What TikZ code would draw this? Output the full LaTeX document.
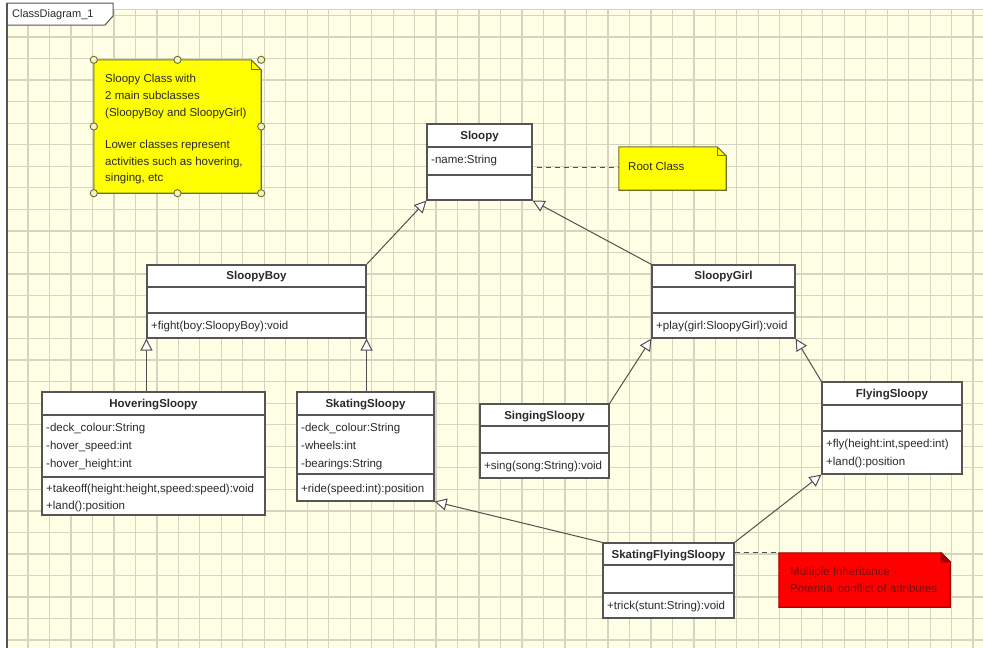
\documentclass[tikz,border=0pt]{standalone}
\usepackage{fontspec}
\setmainfont{Liberation Sans}
\usetikzlibrary{arrows.meta,calc}
\definecolor{bgcream}{HTML}{FFFFE6}
\definecolor{gridc}{HTML}{D4D4C0}
\definecolor{boxgray}{HTML}{555555}
\definecolor{txtgray}{HTML}{2A2A2A}
\definecolor{linegray}{HTML}{505050}
\definecolor{noteyellow}{HTML}{FFFF00}
\definecolor{noteyborder}{HTML}{6E6E30}
\definecolor{notered}{HTML}{FF0000}
\definecolor{noterborder}{HTML}{A00000}
\definecolor{notertext}{HTML}{7A0C0C}
\definecolor{handlefill}{HTML}{F4F4C0}
\newcommand{\fs}{\fontsize{11.5}{13}\selectfont}
\begin{document}
\begin{tikzpicture}[x=1pt,y=-1pt,
  gridline/.style={draw=gridc, line width=1.3pt},
  cls/.style={draw=boxgray, fill=white, line width=1.1pt, inner sep=0pt},
  divline/.style={draw=boxgray, line width=1.1pt},
  ttl/.style={inner sep=0pt, font=\fs\bfseries, text=txtgray, text height=8.5pt, text depth=2.5pt},
  txt/.style={anchor=west, inner sep=0pt, font=\fs, text=txtgray, text height=8.5pt, text depth=2.5pt},
  notebox/.style={inner sep=0pt},
  gen/.style={draw=linegray, line width=1pt, -{Triangle[open, length=12pt, width=12pt, fill=white]}},
  dashline/.style={draw=linegray, line width=1pt, dash pattern=on 5pt off 4pt},
  handle/.style={draw=noteyborder, fill=handlefill, line width=0.9pt}
]
\useasboundingbox (0,0) rectangle (983,648);
\fill[white] (0,0) rectangle (983,648);
\fill[bgcream] (7,9) rectangle (983,648);
\begin{scope}
  \clip (7,9) rectangle (983,648);
  \foreach \i in {-1,...,45} \draw[gridline] ({28+21.48*\i},9) -- ({28+21.48*\i},648);
  \foreach \j in {-1,...,28} \draw[gridline] (7,{37+21.54*\j}) -- (983,{37+21.54*\j});
\end{scope}
\draw[draw=gridc, line width=0.8pt] (7,9) -- (983,9);
% frame tab
\draw[draw=boxgray, line width=1pt, fill=white] (7,25) -- (7,3) -- (113,3) -- (113,16) -- (105,25) -- cycle;
\draw[draw=boxgray, line width=1.2pt] (7,3) -- (7,648);
\node[txt, font=\fontsize{11}{13}\selectfont] (tab) at (12,14) {ClassDiagram\_1};

% yellow note
\node[notebox, minimum width=167, minimum height=133] (note) at (177.5,126.5) {};
\filldraw[fill=noteyellow, draw=noteyborder, line width=1.1pt] (note.north west) -- ($(note.north east)+(-10,0)$) -- ($(note.north east)+(0,10)$) -- (note.south east) -- (note.south west) -- cycle;
\draw[draw=noteyborder, line width=1pt] ($(note.north east)+(-10,0)$) -- ($(note.north east)+(-10,10)$) -- ($(note.north east)+(0,10)$);
\foreach \p in {north west, north, north east, west, east, south west, south, south east}
  \filldraw[handle] (note.\p) circle (3.6);
\node[txt] (n1) at (105,79) {Sloopy Class with};
\node[txt] (n2) at (105,96) {2 main subclasses};
\node[txt] (n3) at (105,113) {(SloopyBoy and SloopyGirl)};
\node[txt] (n4) at (105,145) {Lower classes represent};
\node[txt] (n5) at (105,162) {activities such as hovering,};
\node[txt] (n6) at (105,178) {singing, etc};

% root note
\node[notebox, minimum width=107, minimum height=43] (root) at (672.5,168.5) {};
\filldraw[fill=noteyellow, draw=noteyborder, line width=1.1pt] (root.north west) -- ($(root.north east)+(-9,0)$) -- ($(root.north east)+(0,9)$) -- (root.south east) -- (root.south west) -- cycle;
\draw[draw=noteyborder, line width=1pt] ($(root.north east)+(-9,0)$) -- ($(root.north east)+(-9,9)$) -- ($(root.north east)+(0,9)$);
\node[txt] (rt) at (628,167) {Root Class};

% red note
\node[notebox, minimum width=171, minimum height=54] (red) at (864.5,580) {};
\filldraw[fill=notered, draw=noterborder, line width=1.1pt] (red.north west) -- ($(red.north east)+(-9,0)$) -- ($(red.north east)+(0,9)$) -- (red.south east) -- (red.south west) -- cycle;
\filldraw[fill=noterborder, draw=noterborder, line width=1pt] ($(red.north east)+(-9,0)$) -- ($(red.north east)+(-9,9)$) -- ($(red.north east)+(0,9)$) -- cycle;
\node[txt, text=notertext] (r1) at (790,572) {Multiple Inheritance -};
\node[txt, text=notertext] (r2) at (790,589) {Potential conflict of attributes};

% classes
\node[cls, minimum width=105, minimum height=76] (sloopy) at (479.5,162) {};
\draw[divline] (sloopy.west |- 0,147) -- (sloopy.east |- 0,147);
\draw[divline] (sloopy.west |- 0,175) -- (sloopy.east |- 0,175);
\node[ttl] (sloopyT) at (479.5,136) {Sloopy};
\node[txt] (sloopyA) at (431,160) {-name:String};

\node[cls, minimum width=219, minimum height=73] (boy) at (256.5,301.5) {};
\draw[divline] (boy.west |- 0,287) -- (boy.east |- 0,287);
\draw[divline] (boy.west |- 0,313) -- (boy.east |- 0,313);
\node[ttl] (boyT) at (256.5,276) {SloopyBoy};
\node[txt] (boyO) at (151,326) {+fight(boy:SloopyBoy):void};

\node[cls, minimum width=143, minimum height=73] (girl) at (723.5,301.5) {};
\draw[divline] (girl.west |- 0,287) -- (girl.east |- 0,287);
\draw[divline] (girl.west |- 0,313) -- (girl.east |- 0,313);
\node[ttl] (girlT) at (723.5,276) {SloopyGirl};
\node[txt] (girlO) at (656,326) {+play(girl:SloopyGirl):void};

\node[cls, minimum width=223, minimum height=123] (hover) at (153.5,453.5) {};
\draw[divline] (hover.west |- 0,415) -- (hover.east |- 0,415);
\draw[divline] (hover.west |- 0,477) -- (hover.east |- 0,477);
\node[ttl] (hoverT) at (153.5,404) {HoveringSloopy};
\node[txt] (hoverA1) at (46,428) {-deck\_colour:String};
\node[txt] (hoverA2) at (46,446) {-hover\_speed:int};
\node[txt] (hoverA3) at (46,464) {-hover\_height:int};
\node[txt] (hoverO1) at (46,489) {+takeoff(height:height,speed:speed):void};
\node[txt] (hoverO2) at (46,506) {+land():position};

\node[cls, minimum width=137, minimum height=109] (skate) at (365.5,446.5) {};
\draw[divline] (skate.west |- 0,415) -- (skate.east |- 0,415);
\draw[divline] (skate.west |- 0,474) -- (skate.east |- 0,474);
\node[ttl] (skateT) at (365.5,404) {SkatingSloopy};
\node[txt] (skateA1) at (301,428) {-deck\_colour:String};
\node[txt] (skateA2) at (301,446) {-wheels:int};
\node[txt] (skateA3) at (301,464) {-bearings:String};
\node[txt] (skateO) at (301,489) {+ride(speed:int):position};

\node[cls, minimum width=129, minimum height=74] (sing) at (544.5,441) {};
\draw[divline] (sing.west |- 0,426) -- (sing.east |- 0,426);
\draw[divline] (sing.west |- 0,453) -- (sing.east |- 0,453);
\node[ttl] (singT) at (544.5,416) {SingingSloopy};
\node[txt] (singO) at (484,466) {+sing(song:String):void};

\node[cls, minimum width=140, minimum height=92] (fly) at (892,428) {};
\draw[divline] (fly.west |- 0,405) -- (fly.east |- 0,405);
\draw[divline] (fly.west |- 0,431) -- (fly.east |- 0,431);
\node[ttl] (flyT) at (892,394) {FlyingSloopy};
\node[txt] (flyO1) at (826,444) {+fly(height:int,speed:int)};
\node[txt] (flyO2) at (826,462) {+land():position};

\node[cls, minimum width=131, minimum height=75] (sfly) at (668.5,580.5) {};
\draw[divline] (sfly.west |- 0,565) -- (sfly.east |- 0,565);
\draw[divline] (sfly.west |- 0,593) -- (sfly.east |- 0,593);
\node[ttl] (sflyT) at (668.5,555) {SkatingFlyingSloopy};
\node[txt] (sflyO) at (607,606) {+trick(stunt:String):void};

% connectors
\draw[gen] (boy.north east) -- (sloopy.south west);
\draw[gen] (girl.north west) -- (sloopy.south east);
\draw[gen] (boy.south west |- hover.north) -- (boy.south west);
\draw[gen] (boy.south east |- skate.north) -- (boy.south east);
\draw[gen] (sing.north east) -- (girl.south west);
\draw[gen] (fly.north west) -- (girl.south east);
\draw[gen] (sfly.north west) -- (skate.south east);
\draw[gen] (sfly.north east) -- (fly.south west);
\draw[dashline] ($(sloopy.east |- rt.west)+(4,0)$) -- (root.west |- rt.west);
\draw[dashline] (sfly.east |- red.north west) -- (red.north west);
\end{tikzpicture}
\end{document}
